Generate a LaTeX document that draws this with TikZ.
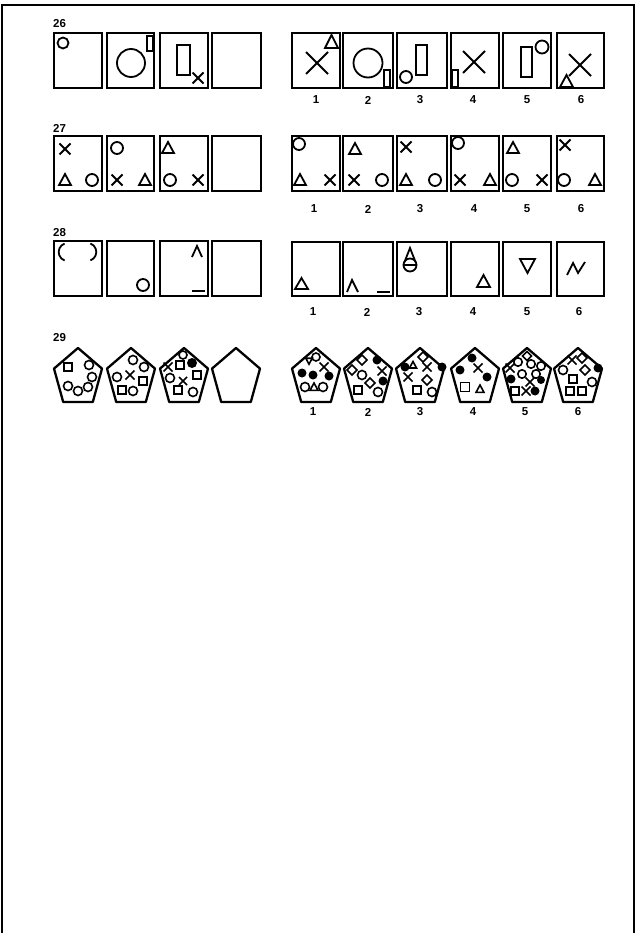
\documentclass[tikz,border=0pt]{standalone}
\usepackage{fontspec}
\setmainfont{Liberation Sans}
\tikzset{
  frame/.style={line width=2.4pt},
  cellbox/.style={draw, line width=2.3pt},
  fig/.style={line width=1.8pt},
  lab/.style={font=\bfseries\fontsize{11.5}{12}\selectfont, inner sep=0pt},
}
\newcommand\shX[3]{\draw[fig] (#1-#3,#2-#3) -- (#1+#3,#2+#3) (#1-#3,#2+#3) -- (#1+#3,#2-#3);}
\newcommand\shC[3]{\draw[fig] (#1,#2) circle[radius=#3pt];}
\newcommand\shF[3]{\fill (#1,#2) circle[radius=#3pt];}
\newcommand\shT[3]{\draw[fig] (#1-#3,#2+0.85*#3) -- (#1,#2-#3) -- (#1+#3,#2+0.85*#3) -- cycle;}
\newcommand\shI[3]{\draw[fig] (#1-#3,#2-0.85*#3) -- (#1,#2+#3) -- (#1+#3,#2-0.85*#3) -- cycle;}
\newcommand\shS[3]{\draw[fig] (#1-#3,#2-#3) rectangle (#1+#3,#2+#3);}
\newcommand\shD[3]{\draw[fig] (#1,#2-#3) -- (#1+#3,#2) -- (#1,#2+#3) -- (#1-#3,#2) -- cycle;}
\newcommand\cellat[4]{\draw[cellbox] (#1,#3) rectangle (#2,#4);}
\newcommand\pent[1]{\draw[cellbox,line join=round] (#1,348) -- (#1+24,368.6) -- (#1+14.8,402) -- (#1-14.8,402) -- (#1-24,368.6) -- cycle;}
\begin{document}
\begin{tikzpicture}[x=1pt,y=-1pt]
\useasboundingbox (0,0) rectangle (640,933);
\draw[frame] (2,933) -- (2,5) -- (634,5) -- (634,933);

% ---------- row 26 ----------
\node[lab,anchor=west] (l26) at (53,24) {26};
\cellat{54}{102}{33}{88}\cellat{107}{154}{33}{88}\cellat{160}{208}{33}{88}\cellat{212}{261}{33}{88}
\shC{63}{43}{5.5}
\shC{131}{63}{14}
\draw[fig] (147,36) rectangle (153,51);
\draw[fig] (177,45) rectangle (190,75);
\shX{198}{78}{5.5}
\cellat{292}{340}{33}{88}\cellat{343}{393}{33}{88}\cellat{397}{447}{33}{88}
\cellat{451}{499}{33}{88}\cellat{503}{551}{33}{88}\cellat{557}{604}{33}{88}
\shX{317}{63}{11}
\draw[fig] (325,48) -- (331.5,35) -- (338,48) -- cycle;
\shC{368}{63}{14.5}
\draw[fig] (384,70) rectangle (390,87);
\draw[fig] (416,45) rectangle (427,75);
\shC{406}{77}{6}
\draw[fig] (452,70) rectangle (458,87);
\shX{474}{62}{11}
\draw[fig] (521,47) rectangle (532,77);
\shC{542}{47}{6.5}
\shX{580}{65}{11}
\draw[fig] (560,87) -- (566.5,75) -- (573,87) -- cycle;
\node[lab] (a261) at (316,100) {1};
\node[lab] (a262) at (368,100) {2};
\node[lab] (a263) at (420,100) {3};
\node[lab] (a264) at (473,100) {4};
\node[lab] (a265) at (527,100) {5};
\node[lab] (a266) at (581,100) {6};

% ---------- row 27 ----------
\node[lab,anchor=west] (l27) at (53,128) {27};
\cellat{54}{102}{136}{191}\cellat{107}{154}{136}{191}\cellat{160}{208}{136}{191}\cellat{212}{261}{136}{191}
\shX{65}{149}{5.5}\shT{65}{180}{6}\shC{92}{180}{6}
\shC{117}{148}{6}\shX{117}{180}{5.5}\shT{145}{180}{6}
\shT{168}{148}{6}\shC{170}{180}{6}\shX{198}{180}{5.5}
\cellat{292}{340}{136}{191}\cellat{343}{393}{136}{191}\cellat{397}{447}{136}{191}
\cellat{451}{499}{136}{191}\cellat{503}{551}{136}{191}\cellat{557}{604}{136}{191}
\shC{299}{144}{6}\shT{300}{180}{6}\shX{330}{180}{5.5}
\shT{355}{149}{6}\shX{354}{180}{5.5}\shC{382}{180}{6}
\shX{406}{147}{5.5}\shT{406}{180}{6}\shC{435}{180}{6}
\shC{458}{143}{6}\shX{460}{180}{5.5}\shT{490}{180}{6}
\shT{513}{148}{6}\shC{512}{180}{6}\shX{542}{180}{5.5}
\shX{565}{145}{5.5}\shC{564}{180}{6}\shT{595}{180}{6}
\node[lab] (a271) at (314,209) {1};
\node[lab] (a272) at (368,209) {2};
\node[lab] (a273) at (420,209) {3};
\node[lab] (a274) at (474,209) {4};
\node[lab] (a275) at (527,209) {5};
\node[lab] (a276) at (581,209) {6};

% ---------- row 28 ----------
\node[lab,anchor=west] (l28) at (53,233) {28};
\cellat{54}{102}{241}{296}\cellat{107}{154}{241}{296}\cellat{160}{208}{241}{296}\cellat{212}{261}{241}{296}
\draw[fig] (64.6,243.6) arc[start angle=110,end angle=250,radius=9pt];
\draw[fig] (90.4,260.4) arc[start angle=-70,end angle=70,radius=9pt];
\shC{143}{285}{6}
\draw[fig] (192,257) -- (197,246) -- (202,257);
\draw[line width=2.3pt] (192,291) -- (205,291);
\cellat{292}{340}{242}{296}\cellat{343}{393}{242}{296}\cellat{397}{447}{242}{296}
\cellat{451}{499}{242}{296}\cellat{503}{551}{242}{296}\cellat{557}{604}{242}{296}
\draw[fig] (295,289) -- (301.5,278) -- (308,289) -- cycle;
\draw[fig] (347,292) -- (352,280) -- (358,292);
\draw[line width=2.3pt] (377,292) -- (390,292);
\shC{410}{265}{6.5}
\draw[fig] (403.5,265) -- (416.5,265);
\draw[fig] (404.5,262) -- (410,248) -- (415.5,262);
\draw[fig] (477,287) -- (483.5,275) -- (490,287) -- cycle;
\draw[fig] (520,259) -- (535,259) -- (527.5,273) -- cycle;
\draw[fig] (567,275) -- (573,263) -- (578,273) -- (585,262);
\node[lab] (a281) at (313,312) {1};
\node[lab] (a282) at (367,312) {2};
\node[lab] (a283) at (419,312) {3};
\node[lab] (a284) at (473,312) {4};
\node[lab] (a285) at (527,312) {5};
\node[lab] (a286) at (579,312) {6};

% ---------- row 29 ----------
\node[lab,anchor=west] (l29) at (53,338) {29};
\pent{78}\pent{131}\pent{184}\pent{236}
\begin{scope}[fig/.style={line width=1.6pt}]
% P1
\shS{68}{367}{4.2}
\shC{89}{365}{4.5}\shC{92}{377}{4.5}\shC{68}{386}{4.5}\shC{78}{391}{4.5}\shC{88}{387}{4.5}
% P2
\shC{133}{360}{4.5}\shC{144}{367}{4.5}\shC{117}{377}{4.5}\shC{133}{391}{4.5}
\shX{130}{375}{4.5}
\shS{143}{381}{4.2}\shS{122}{390}{4.2}
% P3
\shC{183}{355}{4}\shF{192}{363}{5}\shS{180}{365}{4}\shX{168}{367}{4.5}
\shC{170}{378}{4.5}\shS{197}{375}{4}\shX{183}{381}{4}\shS{178}{390}{4.2}\shC{193}{392}{4.5}
\end{scope}
\pent{316}\pent{368}\pent{420}\pent{475}\pent{527}\pent{578}
\begin{scope}[fig/.style={line width=1.6pt}]
% R1
\shI{309}{361}{3.2}\shC{316}{357}{4}\shX{324}{367}{4.5}
\shF{302}{373}{4.5}\shF{313}{375}{4.5}\shF{329}{376}{4.5}
\shC{305}{387}{4.5}\shT{314}{387}{4}\shC{323}{387}{4.5}
% R2
\shD{362}{360}{5}\shF{377}{360}{4.5}\shD{352}{370}{5}\shC{362}{375}{4.5}\shX{382}{371}{4.5}
\shF{383}{381}{4.5}\shD{370}{383}{5}\shS{358}{390}{4.2}\shC{378}{392}{4.5}
% R3
\shD{423}{357}{5}\shF{405}{367}{4.5}\shT{413}{365}{3.5}\shX{427}{367}{4.5}\shF{442}{367}{4.5}
\shX{408}{377}{4.5}\shD{427}{380}{5}\shS{417}{390}{4.2}\shC{432}{392}{4.5}
% R4
\shF{472}{358}{4.5}\shX{478}{368}{4.5}\shF{460}{370}{4.5}\shF{487}{377}{4.5}
\shS{465}{387}{4.5}\shT{480}{389}{4}
% R5
\shD{527}{356}{4.5}\shC{518}{362}{4.2}\shC{531}{364}{4.2}\shC{541}{366}{4.2}
\shX{510}{368}{4.5}\shC{522}{374}{4.2}\shC{536}{374}{4.2}\shF{511}{379}{4.5}
\shX{530}{382}{4.5}\shF{541}{380}{4}\shS{515}{391}{4}\shX{526}{391}{4.5}\shF{535}{391}{4.5}
% R6
\shX{572}{360}{4.5}\shD{582}{358}{5}\shC{563}{370}{4.5}\shD{585}{370}{5}\shF{598}{368}{4.5}
\shS{573}{379}{4.2}\shC{592}{382}{4.5}\shS{570}{391}{4.2}\shS{582}{391}{4.2}
\end{scope}
\node[lab] (a291) at (313,412) {1};
\node[lab] (a292) at (368,412) {2};
\node[lab] (a293) at (420,412) {3};
\node[lab] (a294) at (473,412) {4};
\node[lab] (a295) at (525,412) {5};
\node[lab] (a296) at (578,412) {6};
\end{tikzpicture}
\end{document}
